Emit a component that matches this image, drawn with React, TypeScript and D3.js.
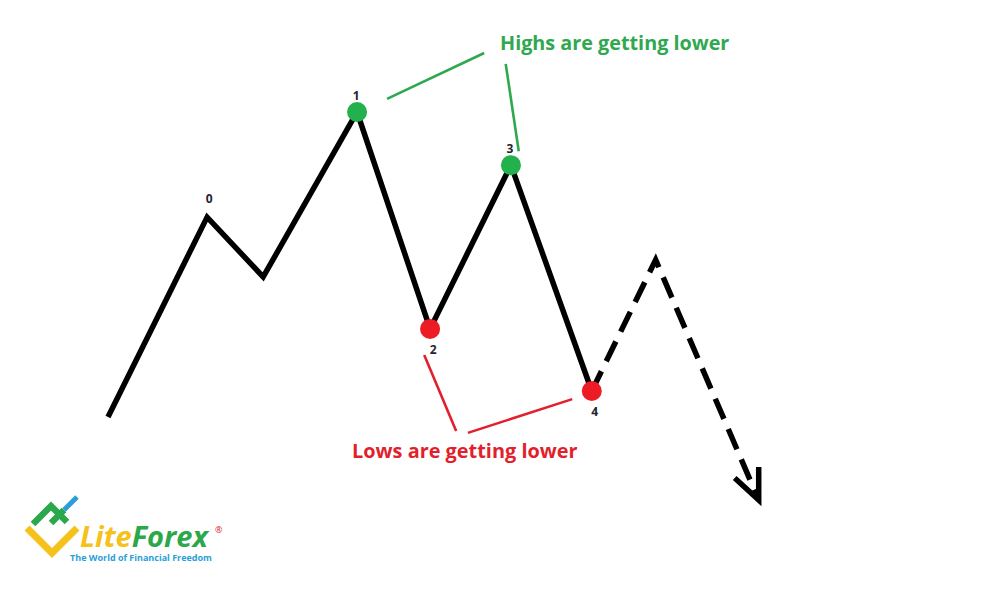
import React from "react";
import * as d3 from "d3";

// time (x) and price (y) of each swing point
const swingTime = [0, 15.2, 23.8, 38.2, 49.4, 61.8, 74.2];
const swingPrice = [21.4, 72.9, 57.5, 100, 44.1, 86.3, 28.1];
// projected (dashed) continuation starting at pivot 4
const projTime = [74.2, 84.0, 99.8];
const projPrice = [28.1, 61.9, 0];

// labelled pivots
const pivotLabels = ["0", "1", "2", "3", "4"];
const pivotIndex = [1, 3, 4, 5, 6];
const pivotKind = ["none", "high", "low", "high", "low"];

// annotation connector lines [t1, p1, t2, p2]
const highLines = [
  [42.8, 103.4, 57.7, 115.2],
  [61.0, 112.4, 63.0, 89.9],
];
const lowLines = [
  [48.5, 37.4, 53.4, 17.8],
  [55.2, 17.3, 71.2, 26.0],
];
const highText = "Highs are getting lower";
const lowText = "Lows are getting lower";

const W = 1000;
const H = 601;
const GREEN = "#22b14c";
const GREEN_TXT = "#2fa84f";
const RED = "#ed1c24";
const RED_TXT = "#e21f2c";
const FONT = "'Open Sans', 'DejaVu Sans', sans-serif";

export default function App() {
  const x = d3.scaleLinear().domain([0, 100]).range([108, 760]);
  const y = d3.scaleLinear().domain([0, 100]).range([500, 112]);

  const line = d3
    .line<number>()
    .x((_, i) => x(swingTime[i]))
    .y((d) => y(d));
  const projLine = d3
    .line<number>()
    .x((_, i) => x(projTime[i]))
    .y((d) => y(d));

  const endX = x(projTime[projTime.length - 1]);
  const endY = y(projPrice[projPrice.length - 1]);

  return (
    <svg
      width={W}
      height={H}
      style={{ position: "absolute", left: 0, top: 0, background: "#fff" }}
      fontFamily={FONT}
    >
      <rect width={W} height={H} fill="#fff" />
      {/* main zigzag */}
      <path
        d={line(swingPrice) || ""}
        fill="none"
        stroke="#000"
        strokeWidth={5.5}
        strokeLinejoin="miter"
        strokeMiterlimit={6}
      />
      {/* dashed projection */}
      <path
        d={projLine(projPrice) || ""}
        fill="none"
        stroke="#000"
        strokeWidth={5.5}
        strokeDasharray="22 11"
        strokeLinejoin="miter"
        strokeMiterlimit={8}
      />
      {/* arrow head */}
      <path
        d={`M${endX - 24},${endY - 22} L${endX},${endY} L${endX},${endY - 33}`}
        fill="none"
        stroke="#000"
        strokeWidth={5.5}
        strokeLinejoin="miter"
      />
      {/* connector lines */}
      {highLines.map((l, i) => (
        <line
          key={"h" + i}
          x1={x(l[0])}
          y1={y(l[1])}
          x2={x(l[2])}
          y2={y(l[3])}
          stroke={GREEN_TXT}
          strokeWidth={2.6}
        />
      ))}
      {lowLines.map((l, i) => (
        <line
          key={"l" + i}
          x1={x(l[0])}
          y1={y(l[1])}
          x2={x(l[2])}
          y2={y(l[3])}
          stroke={RED_TXT}
          strokeWidth={2.6}
        />
      ))}
      {/* pivot markers and labels */}
      {pivotIndex.map((idx, k) => {
        const cx = x(swingTime[idx]);
        const cy = y(swingPrice[idx]);
        const kind = pivotKind[k];
        const below = kind === "low";
        return (
          <g key={"p" + k}>
            {kind !== "none" && (
              <circle cx={cx} cy={cy} r={10} fill={kind === "high" ? GREEN : RED} />
            )}
            <text
              x={cx + (below ? 3 : kind === "none" ? 2 : -1)}
              y={below ? cy + 25 : kind === "none" ? cy - 14 : cy - 12}
              textAnchor="middle"
              fontSize={12}
              fontWeight="bold"
              fill="#1f2430"
            >
              {pivotLabels[k]}
            </text>
          </g>
        );
      })}
      {/* annotation texts */}
      <text x={500} y={50} fontSize={19.8} fontWeight="bold" fill={GREEN_TXT}>
        {highText}
      </text>
      <text x={352} y={458} fontSize={19.9} fontWeight="bold" fill={RED_TXT}>
        {lowText}
      </text>
      {/* logo */}
      <g>
        <path d="M27,528 L52,553 L77,528" fill="none" stroke="#f4c21b" strokeWidth={7} />
        <path d="M33,524 L51,506 L67,522" fill="none" stroke="#2aa84a" strokeWidth={6.5} />
        <path d="M51,523 L64,510" fill="none" stroke="#2aa84a" strokeWidth={6.5} />
        <path d="M64,510 L77,497" fill="none" stroke="#2a9fd8" strokeWidth={5} />
        <text x={80} y={547} fontSize={29} fontWeight="bold" fontStyle="italic" fontFamily="'Open Sans', sans-serif">
          <tspan fill="#f4c21b">Lite</tspan>
          <tspan fill="#2aa84a">Forex</tspan>
        </text>
        <text x={215} y={533} fontSize={9} fill="#e0202e">®</text>
        <text x={70} y={561} fontSize={9} fontWeight="bold" fill="#2a9fd8" fontFamily="'Open Sans', sans-serif">
          The World of Financial Freedom
        </text>
      </g>
    </svg>
  );
}
